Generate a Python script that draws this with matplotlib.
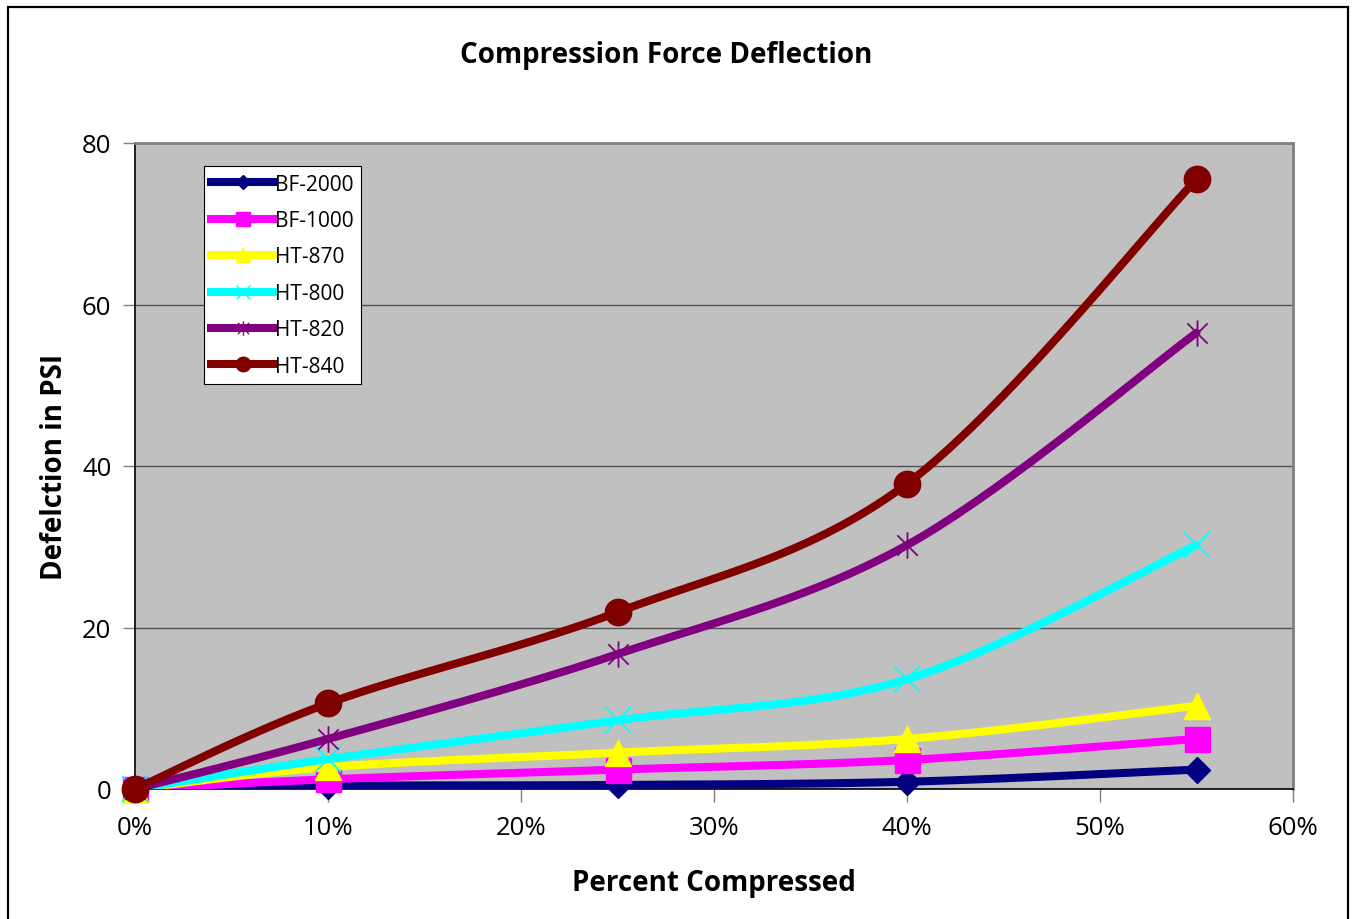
import numpy as np
import matplotlib.pyplot as plt
from matplotlib.path import Path
from matplotlib.patches import Rectangle

plt.rcParams['font.family'] = ['Open Sans', 'DejaVu Sans']

# datos
pct = [0.0, 0.10, 0.25, 0.40, 0.55]
bf2000 = [0.0, 0.4, 0.5, 0.9, 2.4]
bf1000 = [0.0, 1.2, 2.4, 3.6, 6.2]
ht870 = [0.0, 2.7, 4.5, 6.2, 10.3]
ht800 = [0.0, 3.7, 8.5, 13.6, 30.2]
ht820 = [0.0, 6.2, 16.7, 30.2, 56.5]
ht840 = [0.0, 10.6, 21.9, 37.8, 75.5]

names = ['BF-2000', 'BF-1000', 'HT-870', 'HT-800', 'HT-820', 'HT-840']
colors = ['#000080', '#FF00FF', '#FFFF00', '#00FFFF', '#800080', '#800000']
series = [bf2000, bf1000, ht870, ht800, ht820, ht840]

# marcador asterisco tipo Excel (X + linea vertical)
star = Path([(-1, -1), (1, 1), (-1, 1), (1, -1), (0, -1.3), (0, 1.3)],
            [Path.MOVETO, Path.LINETO, Path.MOVETO, Path.LINETO, Path.MOVETO, Path.LINETO])
markers = ['D', 's', '^', 'x', star, 'o']
msizes = [13, 18, 19, 19, 19, 19]


def smooth(x, y, n=30):
    # curva suavizada estilo Excel (Catmull-Rom como Bezier)
    x = np.asarray(x)
    y = np.asarray(y)
    px, py = [], []
    for i in range(len(x) - 1):
        i0 = max(i - 1, 0)
        i3 = min(i + 2, len(x) - 1)
        p0 = np.array([x[i], y[i]])
        p3 = np.array([x[i + 1], y[i + 1]])
        p1 = p0 + (p3 - np.array([x[i0], y[i0]])) / 6
        p2 = p3 - (np.array([x[i3], y[i3]]) - p0) / 6
        t = np.linspace(0, 1, n)[:, None]
        b = (1 - t)**3 * p0 + 3 * (1 - t)**2 * t * p1 + 3 * (1 - t) * t**2 * p2 + t**3 * p3
        px.extend(b[:, 0])
        py.extend(b[:, 1])
    return px, py


fig = plt.figure(figsize=(13.53, 9.20), dpi=100)
ax = fig.add_axes([135/1353, 130/920, 1158/1353, 646/920])
ax.set_facecolor('#C0C0C0')

for vals, name, c, m, ms in zip(series, names, colors, markers, msizes):
    sx, sy = smooth(pct, vals)
    ax.plot(sx, sy, color=c, lw=5.8, solid_capstyle='round', zorder=3)
    ax.plot(pct, vals, ls='none', marker=m, ms=ms, color=c, mec=c,
            mew=1.3 if m in ('x', star) else 1, zorder=3, clip_on=False)
    ax.plot([], [], color=c, lw=5.8, marker=m, ms=ms * 0.55, mec=c, label=name)

ax.set_xlim(0, 0.6)
ax.set_ylim(0, 80)
ax.set_xticks([0, 0.1, 0.2, 0.3, 0.4, 0.5, 0.6])
ax.set_xticklabels(['0%', '10%', '20%', '30%', '40%', '50%', '60%'])
ax.set_yticks([0, 20, 40, 60, 80])
ax.tick_params(labelsize=18.5, length=9, width=1, color='#808080', pad=8)
ax.tick_params(axis='x', pad=10)
ax.yaxis.grid(True, color='#505050', lw=1)
ax.set_axisbelow(True)
for s in ('top', 'right'):
    ax.spines[s].set_color('#808080')
    ax.spines[s].set_linewidth(2)
for s in ('left', 'bottom'):
    ax.spines[s].set_color('black')
    ax.spines[s].set_linewidth(1.2)

ax.set_xlabel('Percent Compressed', fontsize=20, fontweight='bold', labelpad=20)
ax.set_ylabel('Defelction in PSI', fontsize=20, fontweight='bold', labelpad=9)
fig.text(0.4925, 1 - 55/920, 'Compression Force Deflection', fontsize=20,
         fontweight='bold', ha='center', va='center')

leg = ax.legend(loc='upper left', bbox_to_anchor=(0.0596, 0.964), fontsize=15,
                handlelength=3.0, handletextpad=0.05, labelspacing=0.74,
                borderpad=0.35, borderaxespad=0, fancybox=False, framealpha=1,
                edgecolor='black')
leg.get_frame().set_linewidth(0.8)

fig.patches.append(Rectangle((8/1353, -0.02), 1340/1353, 1.02 - 8/920, fill=False,
                             ec='black', lw=1.6, transform=fig.transFigure))

fig.savefig('out.png', dpi=100)
